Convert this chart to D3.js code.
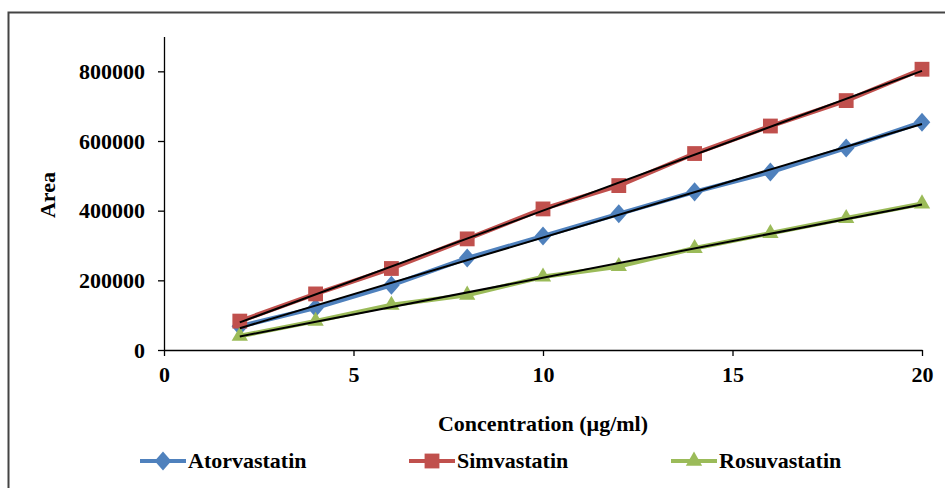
<!DOCTYPE html>
<html>
<head>
<meta charset="utf-8">
<script src="https://cdn.jsdelivr.net/npm/d3@7"></script>
<style>
  html, body { margin: 0; padding: 0; background: #fff; }
  svg { display: block; }
  text { font-family: "Liberation Serif", "Times New Roman", serif; font-weight: bold; fill: #000; }
</style>
</head>
<body>
<svg id="chart" width="945" height="488"></svg>
<script>
// Concentrations (µg/ml) and peak areas for each statin
const concentrations = [2, 4, 6, 8, 10, 12, 14, 16, 18, 20];
const atorvastatin = [68000, 121000, 186000, 264000, 327000, 391000, 454000, 511000, 580000, 654000];
const simvastatin  = [83000, 161000, 234000, 319000, 405000, 472000, 564000, 643000, 716000, 806000];
const rosuvastatin = [40000, 83000, 129000, 158000, 210000, 240000, 292000, 335000, 378000, 420000];

const xTicks = [0, 5, 10, 15, 20];
const yTicks = [0, 200000, 400000, 600000, 800000];

const seriesNames = ["Atorvastatin", "Simvastatin", "Rosuvastatin"];
const seriesColors = ["#4F81BD", "#C0504D", "#9BBB59"];
const seriesShapes = ["diamond", "square", "triangle"];
const seriesValues = [atorvastatin, simvastatin, rosuvastatin];

const FONT = "22px";
const svg = d3.select("#chart");

// chart frame (runs off the right and bottom edges)
svg.append("rect")
  .attr("x", 8.5).attr("y", 12.5)
  .attr("width", 960).attr("height", 500)
  .attr("fill", "none").attr("stroke", "#444").attr("stroke-width", 2);

const x = d3.scaleLinear().domain([0, 20]).range([164, 922]);
const y = d3.scaleLinear().domain([0, 900000]).range([350, 36.5]);

// axes
const xAxis = d3.axisBottom(x).tickValues(xTicks).tickSize(6).tickSizeOuter(0).tickPadding(10).tickFormat(d3.format("d"));
const yAxis = d3.axisLeft(y).tickValues(yTicks).tickSize(6).tickSizeOuter(0).tickPadding(13).tickFormat(d3.format("d"));

const gx = svg.append("g").attr("transform", "translate(0,350)").call(xAxis);
const gy = svg.append("g").attr("transform", "translate(164,0)").call(yAxis);
[gx, gy].forEach(g => {
  g.select(".domain").attr("stroke", "#000").attr("stroke-width", 1.3);
  g.selectAll(".tick line").attr("stroke", "#000").attr("stroke-width", 1.3);
  g.selectAll(".tick text").style("font-size", FONT).style("font-family", "Liberation Serif").style("font-weight", "bold").attr("fill", "#000");
});

// axis titles
svg.append("text")
  .attr("transform", "translate(55,195) rotate(-90)")
  .attr("text-anchor", "middle")
  .style("font-size", FONT)
  .text("Area");

svg.append("text")
  .attr("x", 543).attr("y", 431)
  .attr("text-anchor", "middle")
  .style("font-size", FONT)
  .text("Concentration (µg/ml)");

function symbolFor(shape) {
  if (shape === "diamond") return d3.symbol().type(d3.symbolDiamond2).size(175);
  if (shape === "square") return d3.symbol().type(d3.symbolSquare2).size(280);
  return d3.symbol().type(d3.symbolTriangle2).size(190);
}

const line = d3.line().x((d, i) => x(concentrations[i])).y(d => y(d));

// least-squares trend line for a series
function fit(vals) {
  const mx = d3.mean(concentrations), my = d3.mean(vals);
  let sxy = 0, sxx = 0;
  concentrations.forEach((c, i) => { sxy += (c - mx) * (vals[i] - my); sxx += (c - mx) * (c - mx); });
  const b = sxy / sxx, a = my - b * mx;
  return c => a + b * c;
}

seriesValues.forEach((vals, k) => {
  const g = svg.append("g");
  g.append("path")
    .attr("d", line(vals))
    .attr("fill", "none")
    .attr("stroke", seriesColors[k])
    .attr("stroke-width", 4.5)
    .attr("stroke-linejoin", "round");
  const sym = symbolFor(seriesShapes[k]);
  g.selectAll("path.m").data(vals).enter().append("path")
    .attr("class", "m")
    .attr("d", sym)
    .attr("transform", (d, i) => {
      const extra = seriesShapes[k] === "diamond" ? " scale(1,1.15)" : "";
      return `translate(${x(concentrations[i])},${y(d)})${extra}`;
    })
    .attr("fill", seriesColors[k]);
});

// trend lines drawn over the series
seriesValues.forEach(vals => {
  const f = fit(vals);
  const x0 = concentrations[0], x1 = concentrations[concentrations.length - 1];
  svg.append("line")
    .attr("x1", x(x0)).attr("y1", y(f(x0)))
    .attr("x2", x(x1)).attr("y2", y(f(x1)))
    .attr("stroke", "#000").attr("stroke-width", 2);
});

// legend
const legendX = [140, 409, 671];
seriesNames.forEach((name, k) => {
  const g = svg.append("g").attr("transform", `translate(${legendX[k]},461)`);
  g.append("line").attr("x1", 0).attr("x2", 46).attr("y1", 0).attr("y2", 0)
    .attr("stroke", seriesColors[k]).attr("stroke-width", 4);
  const sym = symbolFor(seriesShapes[k]);
  g.append("path").attr("d", sym)
    .attr("transform", "translate(23,0)" + (seriesShapes[k] === "diamond" ? " scale(1,1.15)" : ""))
    .attr("fill", seriesColors[k]);
  g.append("text").attr("x", 48).attr("y", 7)
    .style("font-size", FONT)
    .text(name);
});
</script>
</body>
</html>
